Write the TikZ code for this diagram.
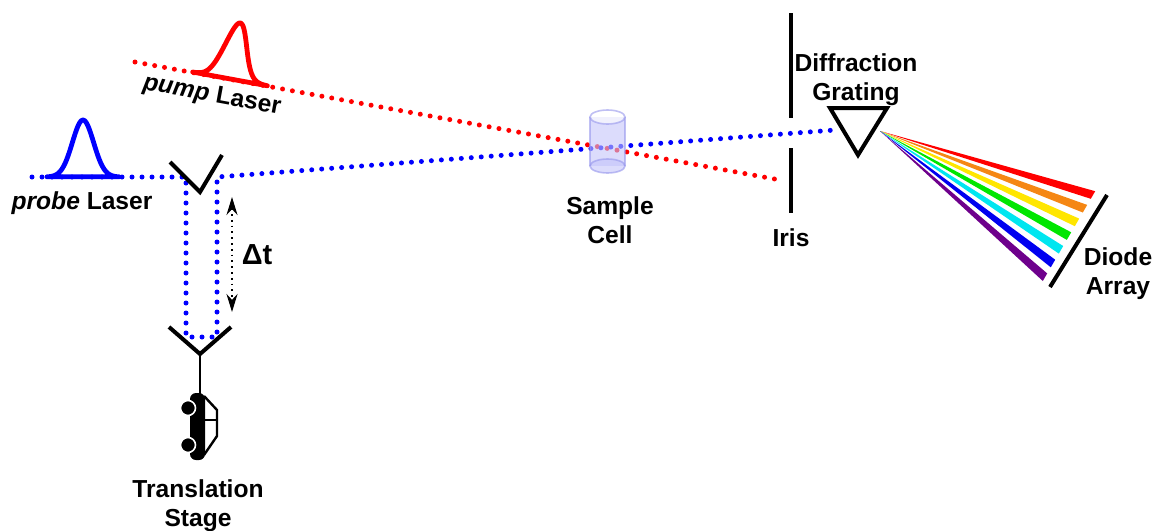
\documentclass[tikz,border=0pt]{standalone}
\usepackage{fontspec}
\setmainfont{Liberation Sans}
\usetikzlibrary{arrows.meta}

\definecolor{cellfill}{RGB}{196,196,250}
\definecolor{celledge}{RGB}{150,150,236}
\definecolor{rayorange}{RGB}{245,135,20}
\definecolor{rayyellow}{RGB}{255,230,0}
\definecolor{raygreen}{RGB}{0,230,0}
\definecolor{raycyan}{RGB}{0,230,240}
\definecolor{rayblue}{RGB}{0,0,240}
\definecolor{raypurple}{RGB}{110,0,140}

\tikzset{
  beam/.style={line width=2.5pt, line cap=round, dash pattern=on 0pt off 5pt},
  optic/.style={line width=2pt},
  pulse/.style={line width=2.4pt, line join=round},
  lbl/.style={font=\fontsize{12.3}{14.5}\selectfont\bfseries, align=center, inner sep=0pt},
}

\begin{document}
\begin{tikzpicture}[x=0.5pt,y=-0.5pt]
\useasboundingbox (0,0) rectangle (1154,530);

% beam points
\coordinate (pumpin) at (135,62);
\coordinate (pumpout) at (780,180);
\coordinate (probein) at (32,177);
\coordinate (d1) at (186,177);
\coordinate (d2) at (186,337);
\coordinate (d3) at (217,337);
\coordinate (d4) at (217,177);
\coordinate (gratin) at (835,130);
\coordinate (src) at (880,131);

% laser beams
\draw[beam,red] (pumpin) -- (pumpout);
\draw[beam,blue] (probein) -- (d1) -- (d2) -- (d3) -- (d4) -- (gratin);

% pulses
\begin{scope}[shift={(83,177)}]
\draw[pulse,blue] plot[domain=-36:36,samples=60,smooth] (\x,{-57*exp(-(\x/15)^2)}) -- cycle;
\end{scope}
\begin{scope}[shift={(230,79)},rotate=-10.4]
\draw[pulse,red] plot[domain=-38:38,samples=60,smooth] (\x,{-57*exp(-(\x/15)^2)}) -- cycle;
\end{scope}

% mirrors on the delay line
\draw[optic] (170,162) -- (200,192) -- (222,155);
\draw[optic] (169,327) -- (200,354) -- (231,327);
\draw[line width=0.8pt] (200,354) -- (200,395);

% translation stage (car)
\fill[rounded corners=3pt] (190,393) rectangle (205,460);
\filldraw[draw=white,line width=0.8pt] (188,408) circle (7.5);
\filldraw[draw=white,line width=0.8pt] (188,445) circle (7.5);
\draw[line width=1.2pt,line join=round] (204,396) -- (217,410) -- (217,436) -- (204,455);
\draw[line width=1.2pt] (204,420) -- (217,420);

% delay arrow
\draw[{Stealth[length=9pt,width=5.5pt]}-{Stealth[length=9pt,width=5.5pt]},dotted,line width=0.9pt] (232,197) -- (232,312);

% sample cell
\begin{scope}[opacity=0.6]
\fill[cellfill] (590,117) rectangle (625,166);
\fill[cellfill] (607.5,166) ellipse [x radius=17.5, y radius=7];
\draw[celledge,line width=0.8pt] (590,117) -- (590,166);
\draw[celledge,line width=0.8pt] (625,117) -- (625,166);
\draw[celledge,line width=0.8pt] (607.5,166) ellipse [x radius=17.5, y radius=7];
\filldraw[fill=white,draw=celledge,line width=0.8pt] (607.5,117) ellipse [x radius=17.5, y radius=7];
\end{scope}

% iris
\draw[optic] (791,13) -- (791,118);
\draw[optic] (791,148) -- (791,213);

% grating
\draw[optic,line join=miter] (830,108) -- (887,108) -- (858,155) -- cycle;

% spectrum
\foreach \c [count=\i from 0] in {red,rayorange,rayyellow,raygreen,raycyan,rayblue,raypurple}
  \fill[\c] (src) -- ({1093-8*\i+2.2},{195+13.7*\i-3.8}) -- ({1093-8*\i-2.2},{195+13.7*\i+3.8}) -- cycle;
\draw[optic] (1107,195) -- (1050,287);

% labels
\node[lbl,rotate=-10.4] (pump) at (212,96) {\itshape pump\upshape{} Laser};
\node[lbl] (probe) at (82,203) {\itshape probe\upshape{} Laser};
\node[lbl,font=\fontsize{14.5}{16}\selectfont\bfseries] (dt) at (257,255) {Δt};
\node[lbl] (stage) at (198,506) {Translation\\Stage};
\node[lbl] (sample) at (610,220) {Sample\\Cell};
\node[lbl] (iris) at (791,238) {Iris};
\node[lbl] (grating) at (856,80) {Diffraction\\Grating};
\node[lbl] (diode) at (1118,274) {Diode\\Array};

\end{tikzpicture}
\end{document}
